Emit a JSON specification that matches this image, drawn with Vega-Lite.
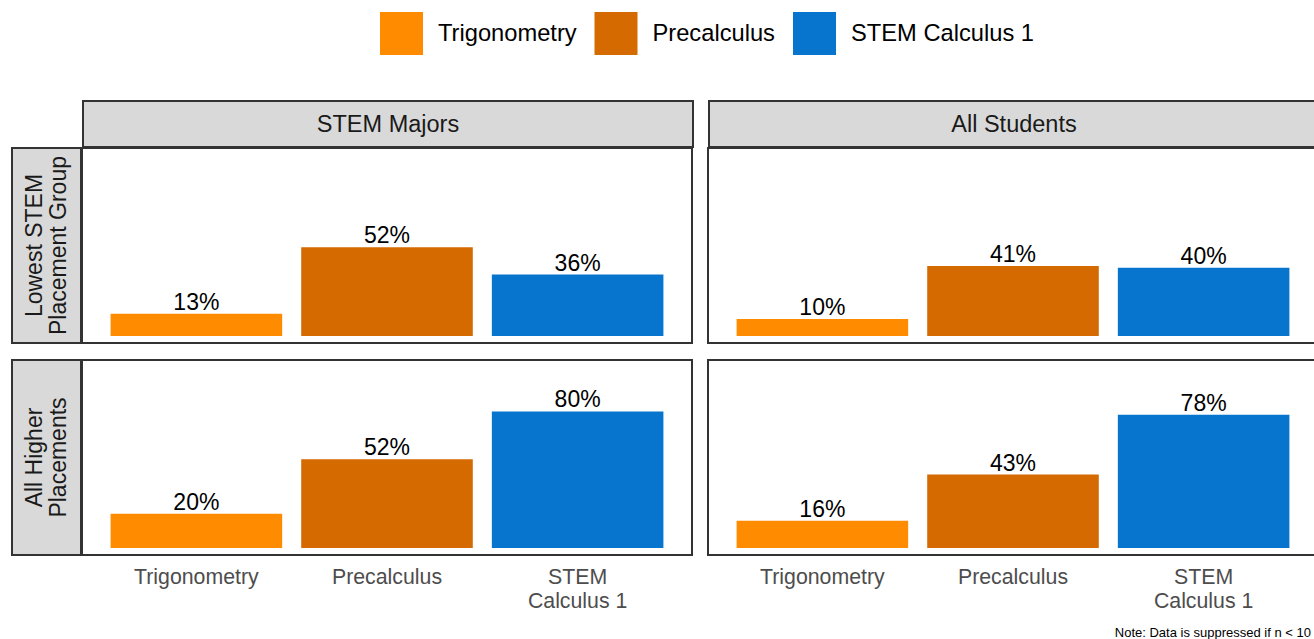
{
  "$schema": "https://vega.github.io/schema/vega-lite/v6.json",
  "padding": {"left": 11, "top": 12, "right": 0, "bottom": 4},
  "background": "white",
  "title": {"text": "Note: Data is suppressed if n < 10", "orient": "bottom", "anchor": "end", "fontSize": 13, "fontWeight": "normal", "color": "#000000", "offset": 15, "dx": -9},
  "data": {"values": [
    {"population": "STEM Majors", "group": "Lowest STEM Placement Group", "course": "Trigonometry", "pct": 0.13},
    {"population": "STEM Majors", "group": "Lowest STEM Placement Group", "course": "Precalculus", "pct": 0.52},
    {"population": "STEM Majors", "group": "Lowest STEM Placement Group", "course": "STEM Calculus 1", "pct": 0.36},
    {"population": "All Students", "group": "Lowest STEM Placement Group", "course": "Trigonometry", "pct": 0.10},
    {"population": "All Students", "group": "Lowest STEM Placement Group", "course": "Precalculus", "pct": 0.41},
    {"population": "All Students", "group": "Lowest STEM Placement Group", "course": "STEM Calculus 1", "pct": 0.40},
    {"population": "STEM Majors", "group": "All Higher Placements", "course": "Trigonometry", "pct": 0.20},
    {"population": "STEM Majors", "group": "All Higher Placements", "course": "Precalculus", "pct": 0.52},
    {"population": "STEM Majors", "group": "All Higher Placements", "course": "STEM Calculus 1", "pct": 0.80},
    {"population": "All Students", "group": "All Higher Placements", "course": "Trigonometry", "pct": 0.16},
    {"population": "All Students", "group": "All Higher Placements", "course": "Precalculus", "pct": 0.43},
    {"population": "All Students", "group": "All Higher Placements", "course": "STEM Calculus 1", "pct": 0.78}
  ]},
  "spacing": -1,
  "vconcat": [
    {
      "spacing": 0,
      "hconcat": [
        {"width": 70, "height": 46, "data": {"values": [{"label": ""}]}, "mark": {"type": "text"}, "encoding": {"text": {"field": "label"}}, "view": {"stroke": null}},
        {
          "spacing": 14,
          "hconcat": [
            {"width": 610, "height": 46, "data": {"values": [{"label": "STEM Majors"}]}, "mark": {"type": "text", "fontSize": 23.5, "color": "#1a1a1a", "dy": 1}, "encoding": {"text": {"field": "label"}}, "view": {"fill": "#d9d9d9", "stroke": "#333333", "strokeWidth": 2}},
            {"width": 610, "height": 46, "data": {"values": [{"label": "All Students"}]}, "mark": {"type": "text", "fontSize": 23.5, "color": "#1a1a1a", "dy": 1}, "encoding": {"text": {"field": "label"}}, "view": {"fill": "#d9d9d9", "stroke": "#333333", "strokeWidth": 2}}
          ]
        }
      ]
    },
    {
      "spacing": 15,
      "vconcat": [
        {
          "spacing": -1,
          "hconcat": [
            {"width": 69, "height": 195, "data": {"values": [{"label": "Lowest STEM\nPlacement Group"}]}, "mark": {"type": "text", "fontSize": 23, "color": "#1a1a1a", "angle": 270, "lineBreak": "\n", "lineHeight": 24, "dy": -12}, "encoding": {"text": {"field": "label"}}, "view": {"fill": "#d9d9d9", "stroke": "#333333", "strokeWidth": 2}},
            {
              "spacing": 14,
              "hconcat": [
                {
                  "width": 610, "height": 195,
                  "transform": [{"filter": "datum.group == 'Lowest STEM Placement Group' && datum.population == 'STEM Majors'"}],
                  "encoding": {
                    "x": {"field": "course", "type": "nominal", "sort": ["Trigonometry", "Precalculus", "STEM Calculus 1"], "scale": {"paddingInner": 0.1, "paddingOuter": 0.15}, "axis": null},
                    "y": {"field": "pct", "type": "quantitative", "scale": {"domain": [-0.041, 1.101], "nice": false, "zero": false}, "axis": null}
                  },
                  "layer": [
                    {"mark": {"type": "bar"}, "encoding": {"color": {"field": "course", "type": "nominal", "sort": ["Trigonometry", "Precalculus", "STEM Calculus 1"], "scale": {"domain": ["Trigonometry", "Precalculus", "STEM Calculus 1"], "range": ["#FF8C00", "#D46A00", "#0775CD"]}, "legend": {"orient": "none", "legendX": 368, "legendY": -89, "direction": "horizontal", "title": null, "symbolType": "square", "symbolSize": 1849, "symbolStrokeWidth": 0, "symbolOpacity": 1, "labelFontSize": 23.7, "labelColor": "#000000", "labelOffset": 15, "columnPadding": 17.5, "padding": 0, "labelLimit": 300}}}},
                    {"mark": {"type": "text", "baseline": "alphabetic", "dy": -4, "fontSize": 23, "color": "#000000"}, "encoding": {"text": {"field": "pct", "type": "quantitative", "format": ".0%"}}}
                  ]
                },
                {
                  "width": 610, "height": 195,
                  "transform": [{"filter": "datum.group == 'Lowest STEM Placement Group' && datum.population == 'All Students'"}],
                  "encoding": {
                    "x": {"field": "course", "type": "nominal", "sort": ["Trigonometry", "Precalculus", "STEM Calculus 1"], "scale": {"paddingInner": 0.1, "paddingOuter": 0.15}, "axis": null},
                    "y": {"field": "pct", "type": "quantitative", "scale": {"domain": [-0.041, 1.101], "nice": false, "zero": false}, "axis": null}
                  },
                  "layer": [
                    {"mark": {"type": "bar"}, "encoding": {"color": {"field": "course", "type": "nominal", "sort": ["Trigonometry", "Precalculus", "STEM Calculus 1"], "scale": {"domain": ["Trigonometry", "Precalculus", "STEM Calculus 1"], "range": ["#FF8C00", "#D46A00", "#0775CD"]}, "legend": {"orient": "none", "legendX": 368, "legendY": -89, "direction": "horizontal", "title": null, "symbolType": "square", "symbolSize": 1849, "symbolStrokeWidth": 0, "symbolOpacity": 1, "labelFontSize": 23.7, "labelColor": "#000000", "labelOffset": 15, "columnPadding": 17.5, "padding": 0, "labelLimit": 300}}}},
                    {"mark": {"type": "text", "baseline": "alphabetic", "dy": -4, "fontSize": 23, "color": "#000000"}, "encoding": {"text": {"field": "pct", "type": "quantitative", "format": ".0%"}}}
                  ]
                }
              ]
            }
          ]
        },
        {
          "spacing": -1,
          "hconcat": [
            {"width": 69, "height": 195, "data": {"values": [{"label": "All Higher\nPlacements"}]}, "mark": {"type": "text", "fontSize": 23, "color": "#1a1a1a", "angle": 270, "lineBreak": "\n", "lineHeight": 24, "dy": -12}, "encoding": {"text": {"field": "label"}}, "view": {"fill": "#d9d9d9", "stroke": "#333333", "strokeWidth": 2}},
            {
              "spacing": 14,
              "hconcat": [
                {
                  "width": 610, "height": 195,
                  "transform": [{"filter": "datum.group == 'All Higher Placements' && datum.population == 'STEM Majors'"}],
                  "encoding": {
                    "x": {"field": "course", "type": "nominal", "sort": ["Trigonometry", "Precalculus", "STEM Calculus 1"], "scale": {"paddingInner": 0.1, "paddingOuter": 0.15}, "axis": {"title": null, "ticks": false, "domain": false, "labelAngle": 0, "labelFontSize": 21.3, "labelColor": "#4d4d4d", "labelPadding": 11, "labelLineHeight": 24, "labelExpr": "datum.label == 'STEM Calculus 1' ? ['STEM', 'Calculus 1'] : datum.label"}},
                    "y": {"field": "pct", "type": "quantitative", "scale": {"domain": [-0.041, 1.101], "nice": false, "zero": false}, "axis": null}
                  },
                  "layer": [
                    {"mark": {"type": "bar"}, "encoding": {"color": {"field": "course", "type": "nominal", "sort": ["Trigonometry", "Precalculus", "STEM Calculus 1"], "scale": {"domain": ["Trigonometry", "Precalculus", "STEM Calculus 1"], "range": ["#FF8C00", "#D46A00", "#0775CD"]}, "legend": {"orient": "none", "legendX": 368, "legendY": -89, "direction": "horizontal", "title": null, "symbolType": "square", "symbolSize": 1849, "symbolStrokeWidth": 0, "symbolOpacity": 1, "labelFontSize": 23.7, "labelColor": "#000000", "labelOffset": 15, "columnPadding": 17.5, "padding": 0, "labelLimit": 300}}}},
                    {"mark": {"type": "text", "baseline": "alphabetic", "dy": -4, "fontSize": 23, "color": "#000000"}, "encoding": {"text": {"field": "pct", "type": "quantitative", "format": ".0%"}}}
                  ]
                },
                {
                  "width": 610, "height": 195,
                  "transform": [{"filter": "datum.group == 'All Higher Placements' && datum.population == 'All Students'"}],
                  "encoding": {
                    "x": {"field": "course", "type": "nominal", "sort": ["Trigonometry", "Precalculus", "STEM Calculus 1"], "scale": {"paddingInner": 0.1, "paddingOuter": 0.15}, "axis": {"title": null, "ticks": false, "domain": false, "labelAngle": 0, "labelFontSize": 21.3, "labelColor": "#4d4d4d", "labelPadding": 11, "labelLineHeight": 24, "labelExpr": "datum.label == 'STEM Calculus 1' ? ['STEM', 'Calculus 1'] : datum.label"}},
                    "y": {"field": "pct", "type": "quantitative", "scale": {"domain": [-0.041, 1.101], "nice": false, "zero": false}, "axis": null}
                  },
                  "layer": [
                    {"mark": {"type": "bar"}, "encoding": {"color": {"field": "course", "type": "nominal", "sort": ["Trigonometry", "Precalculus", "STEM Calculus 1"], "scale": {"domain": ["Trigonometry", "Precalculus", "STEM Calculus 1"], "range": ["#FF8C00", "#D46A00", "#0775CD"]}, "legend": {"orient": "none", "legendX": 368, "legendY": -89, "direction": "horizontal", "title": null, "symbolType": "square", "symbolSize": 1849, "symbolStrokeWidth": 0, "symbolOpacity": 1, "labelFontSize": 23.7, "labelColor": "#000000", "labelOffset": 15, "columnPadding": 17.5, "padding": 0, "labelLimit": 300}}}},
                    {"mark": {"type": "text", "baseline": "alphabetic", "dy": -4, "fontSize": 23, "color": "#000000"}, "encoding": {"text": {"field": "pct", "type": "quantitative", "format": ".0%"}}}
                  ]
                }
              ]
            }
          ]
        }
      ]
    }
  ],
  "config": {
    "font": "Liberation Sans",
    "view": {"stroke": "#333333", "strokeWidth": 2},
    "axis": {"grid": false},
    "concat": {"spacing": 16}
  }
}
